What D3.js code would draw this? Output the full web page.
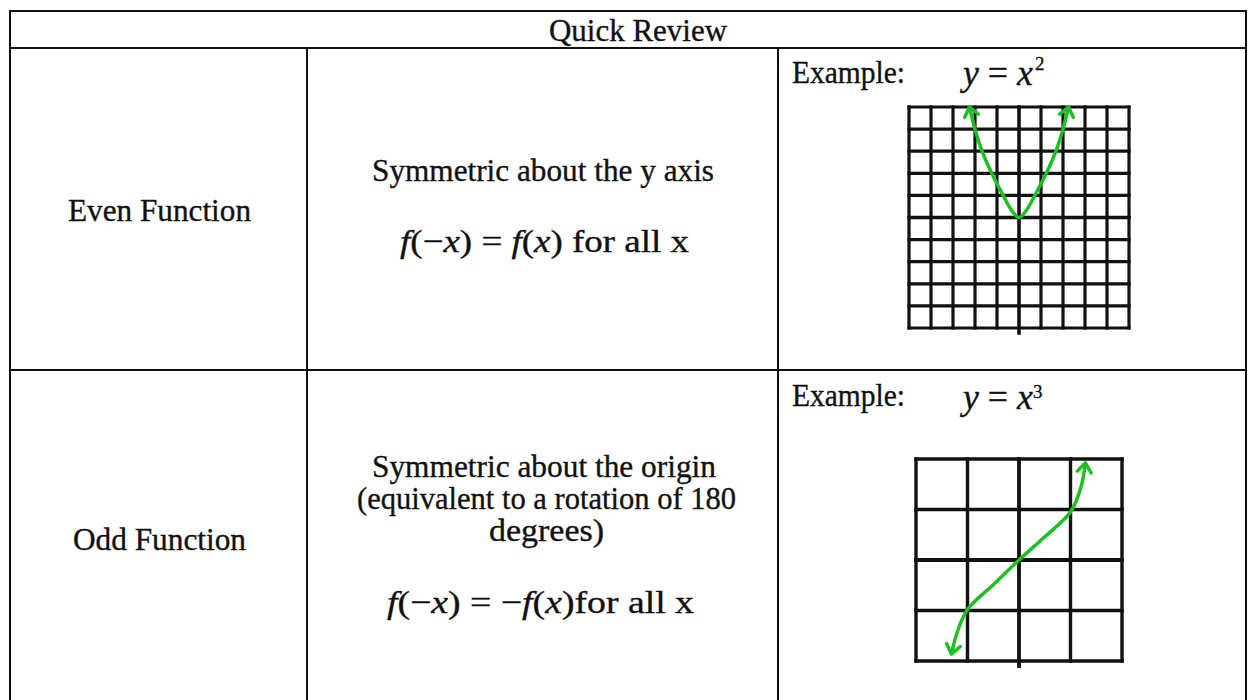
<!DOCTYPE html>
<html>
<head>
<meta charset="utf-8">
<script src="https://cdn.jsdelivr.net/npm/d3@7"></script>
<style>
  body { margin: 0; background: #fff; }
  svg text { font-family: "Liberation Serif", "Times New Roman", serif; fill: #111; stroke: #111; stroke-width: 0.35; }
</style>
</head>
<body>
<div id="chart"></div>
<script>
// table layout values (pixels)
var colEdges = [10, 307, 778, 1246],
    rowEdges = [11, 48, 370, 702];

// points (grid units, -5..5)
var evenX = [-2.25, -2.0, -1.68, -1.24, -0.72, -0.32, 0, 0.32, 0.72, 1.24, 1.68, 2.0, 2.25],
    evenY = [5, 4, 3, 2, 1, 0.3, 0, 0.3, 1, 2, 3, 4, 5];
// points (grid units, -2..2)
var oddX = [-1.31, -1.2, -1, -0.5, 0, 0.5, 1, 1.2, 1.29],
    oddY = [-1.86, -1.43, -0.98, -0.49, 0, 0.46, 0.95, 1.43, 1.92];

var evenTicks = d3.range(-5, 6),
    oddTicks = d3.range(-2, 3);

var green = "#1dbf22";

var svg = d3.select("#chart").append("svg")
    .attr("width", 1248)
    .attr("height", 700);

svg.append("defs").append("marker")
    .attr("id", "arrow")
    .attr("markerUnits", "userSpaceOnUse")
    .attr("markerWidth", 26)
    .attr("markerHeight", 26)
    .attr("refX", 0)
    .attr("refY", 0)
    .attr("viewBox", "-13 -13 26 26")
    .attr("orient", "auto-start-reverse")
  .append("path")
    .attr("d", "M-9,-7 L0,0 L-9,7")
    .attr("fill", "none")
    .attr("stroke", green)
    .attr("stroke-width", 3.5)
    .attr("stroke-linecap", "round")
    .attr("stroke-linejoin", "round");

// table borders
var table = svg.append("g")
    .attr("stroke", "#111")
    .attr("stroke-width", 2)
    .attr("fill", "none");
table.append("rect")
    .attr("x", colEdges[0])
    .attr("y", rowEdges[0])
    .attr("width", colEdges[3] - colEdges[0])
    .attr("height", rowEdges[3] - rowEdges[0]);
table.selectAll("line.h")
    .data([rowEdges[1], rowEdges[2]])
  .enter().append("line")
    .attr("x1", colEdges[0]).attr("x2", colEdges[3])
    .attr("y1", function(d) { return d; }).attr("y2", function(d) { return d; });
table.selectAll("line.v")
    .data([colEdges[1], colEdges[2]])
  .enter().append("line")
    .attr("x1", function(d) { return d; }).attr("x2", function(d) { return d; })
    .attr("y1", rowEdges[1]).attr("y2", rowEdges[3]);

// plain text helper: fits the text to a measured width
function label(x, y, str, width, size) {
  return svg.append("text")
      .attr("x", x)
      .attr("y", y)
      .attr("font-size", size || 31)
      .attr("textLength", width)
      .attr("lengthAdjust", "spacingAndGlyphs")
      .text(str);
}

label(549, 41, "Quick Review", 178);
label(68, 221, "Even Function", 183);
label(73, 550, "Odd Function", 173);
label(372, 181, "Symmetric about the y axis", 342);
label(372, 477, "Symmetric about the origin", 344);
label(357, 509, "(equivalent to a rotation of 180", 379);
label(489, 541, "degrees)", 115);
label(792, 83, "Example:", 113);
label(792, 406, "Example:", 113);

// formula helper: pieces of [string, italic]
function formula(x, y, parts, width, size) {
  var t = svg.append("text")
      .attr("x", x)
      .attr("y", y)
      .attr("font-size", size || 32)
      .attr("textLength", width)
      .attr("lengthAdjust", "spacingAndGlyphs");
  parts.forEach(function(p) {
    t.append("tspan")
        .attr("font-style", p[1] ? "italic" : "normal")
        .text(p[0]);
  });
  return t;
}

formula(400, 252, [["f", 1], ["(\u2212", 0], ["x", 1], [") = ", 0], ["f", 1], ["(", 0], ["x", 1], [")  for all x", 0]], 289);
formula(387, 613, [["f", 1], ["(\u2212", 0], ["x", 1], [") = \u2212", 0], ["f", 1], ["(", 0], ["x", 1], [")for all x", 0]], 307);
formula(963, 85, [["y", 1], [" = ", 0], ["x", 1]], 70, 36);
formula(963, 409, [["y", 1], [" = ", 0], ["x", 1]], 70, 36);
svg.append("text").attr("x", 1035).attr("y", 70).attr("font-size", 19).text("2");
svg.append("text").attr("x", 1033).attr("y", 398).attr("font-size", 19).text("3");

// grid example
function gridPlot(xRange, yRange, ticks, xs, ys, lineW, axisW) {
  var x = d3.scaleLinear().domain(d3.extent(ticks)).range(xRange),
      y = d3.scaleLinear().domain(d3.extent(ticks)).range(yRange);
  var g = svg.append("g").attr("stroke", "#111").attr("fill", "none");
  g.selectAll("line.gx")
      .data(ticks)
    .enter().append("line")
      .attr("x1", function(d) { return x(d); })
      .attr("x2", function(d) { return x(d); })
      .attr("y1", y(ticks[ticks.length - 1]))
      .attr("y2", function(d) { return d === 0 ? y(ticks[0]) + 5 : y(ticks[0]); })
      .attr("stroke-width", function(d) { return d === 0 ? axisW : lineW; })
      .attr("stroke-linecap", "square");
  g.selectAll("line.gy")
      .data(ticks)
    .enter().append("line")
      .attr("y1", function(d) { return y(d); })
      .attr("y2", function(d) { return y(d); })
      .attr("x1", x(ticks[0]))
      .attr("x2", x(ticks[ticks.length - 1]))
      .attr("stroke-width", function(d) { return d === 0 ? axisW : lineW; })
      .attr("stroke-linecap", "square");

  var line = d3.line()
      .x(function(d, i) { return x(xs[i]); })
      .y(function(d, i) { return y(ys[i]); })
      .curve(d3.curveCatmullRom.alpha(0.5));
  svg.append("path")
      .attr("d", line(xs))
      .attr("fill", "none")
      .attr("stroke", green)
      .attr("stroke-width", 3.5)
      .attr("stroke-linecap", "round")
      .attr("marker-start", "url(#arrow)")
      .attr("marker-end", "url(#arrow)");
}

gridPlot([909, 1129], [328, 107], evenTicks, evenX, evenY, 3.2, 3.6);
gridPlot([916, 1122], [661, 459], oddTicks, oddX, oddY, 3.4, 3.8);
</script>
</body>
</html>
